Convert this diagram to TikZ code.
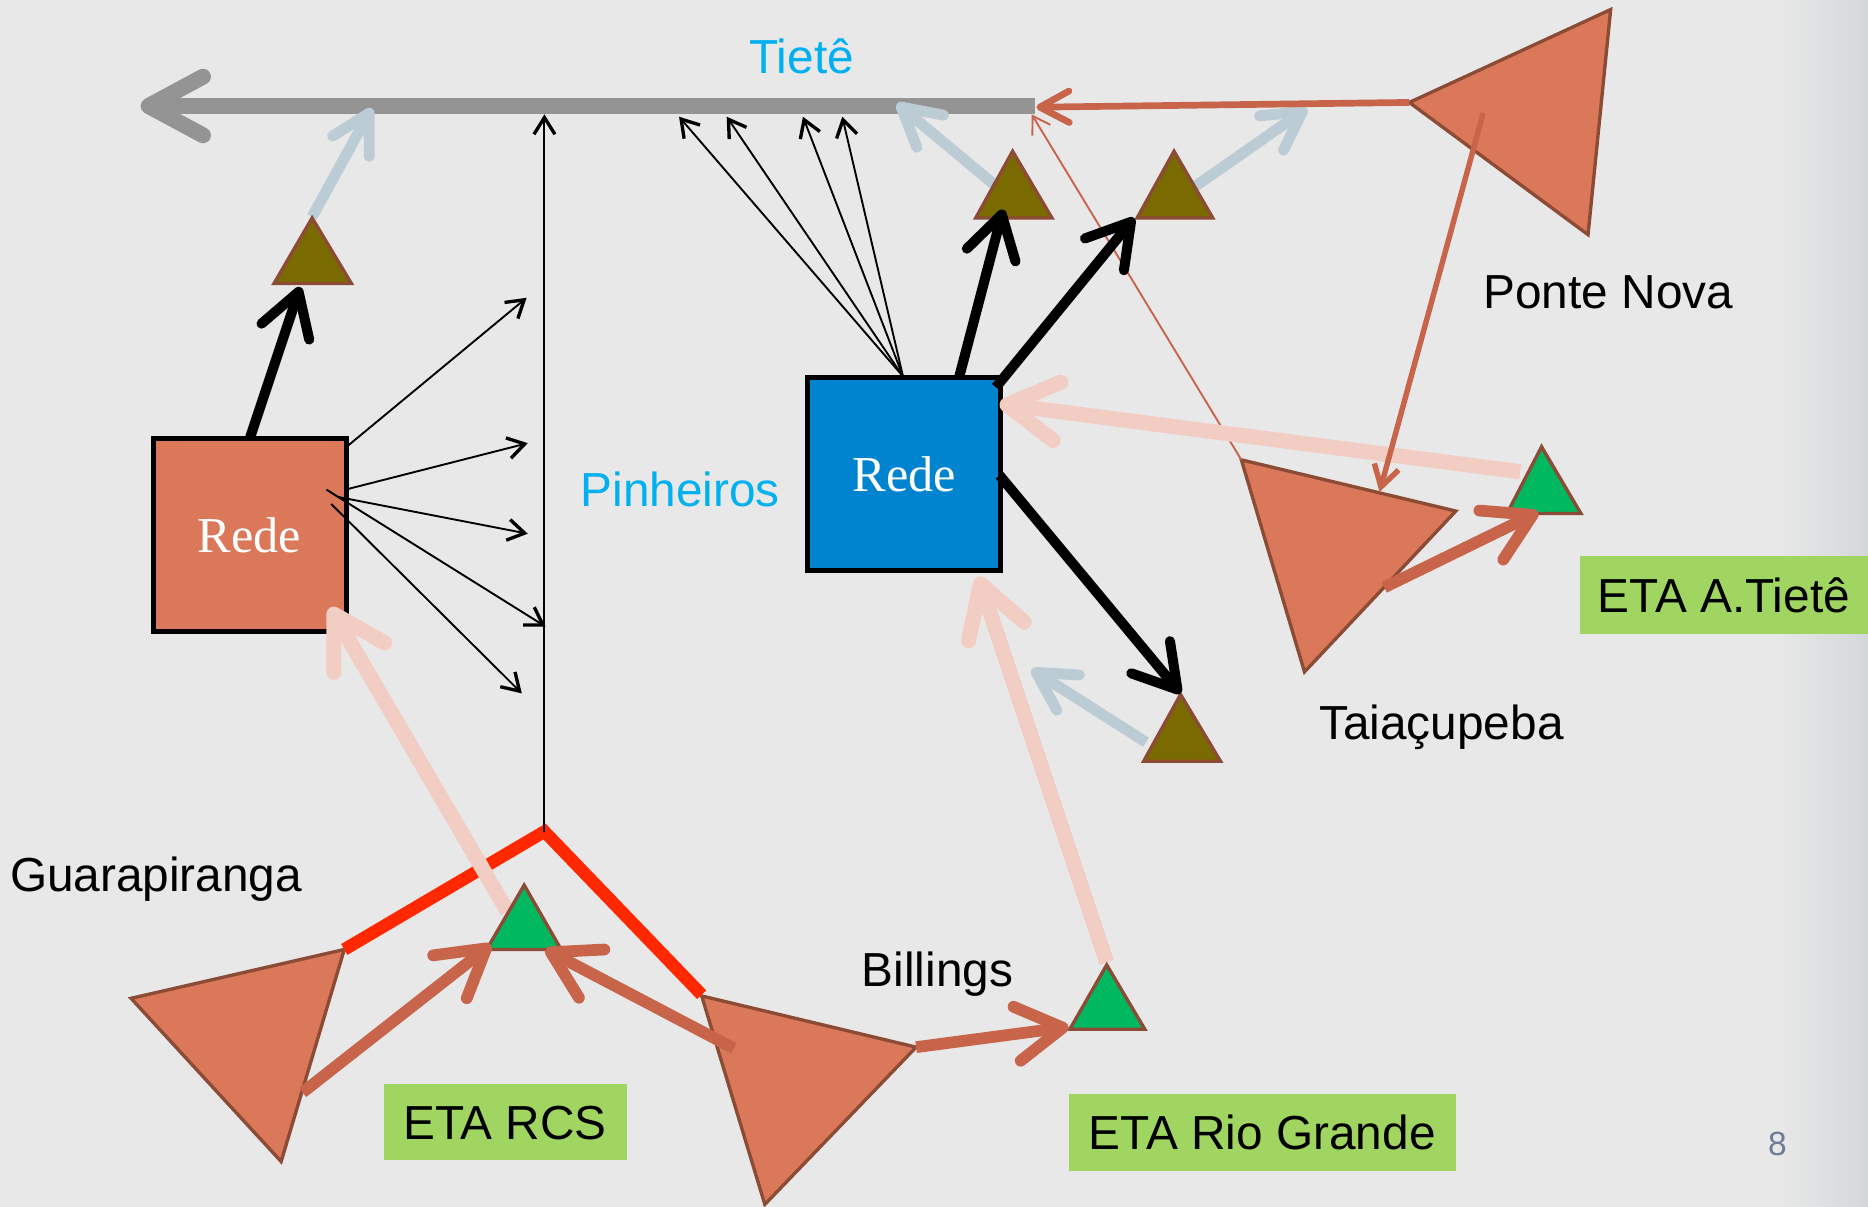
\documentclass[tikz,border=0pt]{standalone}
\usepackage{fontspec}
\setmainfont{Liberation Sans}
\newfontfamily\redefont{Liberation Serif}
\usetikzlibrary{arrows.meta}
\definecolor{bgc}{RGB}{232,232,232}
\definecolor{bgdark}{RGB}{212,215,218}
\definecolor{orfill}{RGB}{220,120,90}
\definecolor{orline}{RGB}{200,100,74}
\definecolor{brownb}{RGB}{140,75,52}
\definecolor{olive}{RGB}{122,107,0}
\definecolor{greent}{RGB}{0,184,96}
\definecolor{lblgreen}{RGB}{160,213,98}
\definecolor{pinkc}{RGB}{242,205,195}
\definecolor{lblue}{RGB}{188,204,212}
\definecolor{grayl}{RGB}{148,148,148}
\definecolor{redl}{RGB}{255,40,0}
\definecolor{cyant}{RGB}{0,176,240}
\definecolor{bluebox}{RGB}{0,132,207}
\definecolor{pagenum}{RGB}{110,122,150}
\begin{document}
\begin{tikzpicture}[x=0.01cm,y=-0.01cm,
  lbl/.style={font=\fontsize{11.4}{13}\selectfont, anchor=base, inner sep=0pt},
  etabox/.style={fill=lblgreen, inner sep=0pt, font=\fontsize{11.4}{13}\selectfont, text height=8.2pt, text depth=0pt},
  redebox/.style={draw=black, line width=1.2pt, minimum width=1.62cm, minimum height=1.62cm, inner sep=0pt, text=white, font=\redefont\fontsize{12}{14}\selectfont},
  bigtri/.style={fill=orfill, draw=brownb, line width=0.8pt, line join=miter},
  olivetri/.style={fill=olive, draw=brownb, line width=0.8pt, line join=miter},
  greentri/.style={fill=greent, draw=brownb, line width=0.8pt, line join=miter},
  grayarr/.style={draw=grayl, line width=3.8pt, -{Straight Barb[length=13pt,width=14pt,round]}},
  blkthick/.style={draw=black, line width=2.4pt, -{Straight Barb[length=10pt,width=12pt,round]}},
  blkthin/.style={draw=black, line width=0.45pt, -{Straight Barb[length=4pt,width=5pt,line width=0.8pt]}},
  bluearr/.style={draw=lblue, line width=2.6pt, -{Straight Barb[length=9pt,width=10pt,round]}},
  pinkarr/.style={draw=pinkc, line width=3.6pt, -{Straight Barb[length=12pt,width=14pt,round]}},
  orarr/.style={draw=orline, line width=2.8pt, -{Straight Barb[length=11pt,width=13pt,round]}},
  ormid/.style={draw=orline, line width=1.6pt, -{Straight Barb[length=7pt,width=7.5pt,round]}},
  orthin/.style={draw=orline, line width=1.3pt, -{Straight Barb[length=5pt,width=6pt]}},
  orhair/.style={draw=orline, line width=0.45pt, -{Straight Barb[length=4pt,width=5pt]}},
  redpath/.style={draw=redl, line width=3pt, line join=miter}
]
\useasboundingbox (0,0) rectangle (1568,1013);
\fill[bgc] (0,0) rectangle (1568,1013);
\shade[left color=bgc, right color=bgdark, shading angle=90] (1490,0) rectangle (1568,1013);

% Tiete river
\coordinate (tieL) at (118,89);
\coordinate (tieR) at (869,89);
\draw[grayarr] (tieR) -- (tieL);

% big reservoirs
\coordinate (pn1) at (1183,86); \coordinate (pn2) at (1352,8); \coordinate (pn3) at (1333,197);
\coordinate (ta1) at (1042,386); \coordinate (ta2) at (1222,429); \coordinate (ta3) at (1095,564);
\coordinate (gu1) at (110,838); \coordinate (gu2) at (289,797); \coordinate (gu3) at (236,975);
\coordinate (bi1) at (589,836); \coordinate (bi2) at (769,879); \coordinate (bi3) at (642,1011);
\filldraw[bigtri] (pn1) -- (pn2) -- (pn3) -- cycle;
\filldraw[bigtri] (ta1) -- (ta2) -- (ta3) -- cycle;
\filldraw[bigtri] (gu1) -- (gu2) -- (gu3) -- cycle;
\filldraw[bigtri] (bi1) -- (bi2) -- (bi3) -- cycle;

% red divide
\coordinate (rpk) at (457,698);
\coordinate (rl) at (289,797);
\coordinate (rr) at (589,835);
\draw[redpath] (rl) -- (rpk) -- (rr);

% Rede boxes
\node[redebox, fill=orfill] (redeL) at (209.5,449) {Rede};
\node[redebox, fill=bluebox] (redeR) at (759,398) {Rede};

% vertical Pinheiros line
\coordinate (pinTop) at (457,96);
\draw[blkthin] (rpk) -- (pinTop);

% thin fan from left Rede
\coordinate (fl1s) at (291,375); \coordinate (fl1e) at (442,250);
\coordinate (fl2s) at (290,411); \coordinate (fl2e) at (443,372);
\coordinate (fl3s) at (283,417); \coordinate (fl3e) at (443,448);
\coordinate (fl4s) at (274,411); \coordinate (fl4e) at (458,526);
\coordinate (fl5s) at (278,423); \coordinate (fl5e) at (438,582);
\draw[blkthin] (fl1s) -- (fl1e);
\draw[blkthin] (fl2s) -- (fl2e);
\draw[blkthin] (fl3s) -- (fl3e);
\draw[blkthin] (fl4s) -- (fl4e);
\draw[blkthin] (fl5s) -- (fl5e);

% thin fan from right Rede
\coordinate (frs) at (758,316);
\coordinate (fr1) at (570,98); \coordinate (fr2) at (610,98);
\coordinate (fr3) at (674,98); \coordinate (fr4) at (707,98);
\draw[blkthin] (frs) -- (fr1);
\draw[blkthin] (frs) -- (fr2);
\draw[blkthin] (frs) -- (fr3);
\draw[blkthin] (frs) -- (fr4);

% thin orange from Taiacupeba to Tiete
\coordinate (thinTop) at (866,96);
\draw[orhair] (ta1) -- (thinTop);

% light blue arrows
\coordinate (b1s) at (262,182); \coordinate (b1e) at (312,91);
\coordinate (b2s) at (837,157); \coordinate (b2e) at (753,87);
\coordinate (b3s) at (1001,158); \coordinate (b3e) at (1097,91);
\coordinate (b4s) at (962,623); \coordinate (b4e) at (866,562);
\draw[bluearr] (b1s) -- (b1e);
\draw[bluearr] (b2s) -- (b2e);
\draw[bluearr] (b3s) -- (b3e);
\draw[bluearr] (b4s) -- (b4e);

% pink arrows
\coordinate (p1s) at (426,765); \coordinate (p1e) at (277,510);
\coordinate (p2s) at (929,808); \coordinate (p2e) at (821,484);
\coordinate (p3s) at (1276,396); \coordinate (p3e) at (839,339);
\draw[pinkarr] (p1s) -- (p1e);
\draw[pinkarr] (p2s) -- (p2e);
\draw[pinkarr] (p3s) -- (p3e);

% small triangles
\filldraw[olivetri] (262,183) -- (295,238) -- (230,238) -- cycle;
\filldraw[olivetri] (850,127) -- (883,183) -- (819,183) -- cycle;
\filldraw[olivetri] (985.5,127) -- (1018,183) -- (954.5,183) -- cycle;
\filldraw[olivetri] (991,583) -- (1024.5,639) -- (960,639) -- cycle;
\filldraw[greentri] (1294,375) -- (1327,431) -- (1265,431) -- cycle;
\filldraw[greentri] (440,743) -- (471,797) -- (408.5,797) -- cycle;
\filldraw[greentri] (929,810) -- (961,864) -- (898,864) -- cycle;

% black thick arrows
\coordinate (k1s) at (210,367); \coordinate (k1e) at (252,241);
\coordinate (k2s) at (805,317); \coordinate (k2e) at (842,176);
\coordinate (k3s) at (836,325); \coordinate (k3e) at (952,183);
\coordinate (k4s) at (839,399); \coordinate (k4e) at (991,582);
\draw[blkthick] (k1s) -- (k1e);
\draw[blkthick] (k2s) -- (k2e);
\draw[blkthick] (k3s) -- (k3e);
\draw[blkthick] (k4s) -- (k4e);

% orange arrows
\coordinate (o1e) at (870,90);
\draw[ormid] (pn1) -- (o1e);
\coordinate (o2s) at (1245,95); \coordinate (o2e) at (1158,413);
\draw[orthin] (o2s) -- (o2e);
\coordinate (o3s) at (1162,493); \coordinate (o3e) at (1291,430);
\draw[orarr] (o3s) -- (o3e);
\coordinate (o4s) at (254,917); \coordinate (o4e) at (412,793);
\draw[orarr] (o4s) -- (o4e);
\coordinate (o5s) at (616,880); \coordinate (o5e) at (458,797);
\draw[orarr] (o5s) -- (o5e);
\coordinate (o6e) at (897,862);
\draw[orarr] (bi2) -- (o6e);

% labels
\node[lbl, text=cyant] (tieteL) at (673,62) {Tietê};
\node[lbl, text=cyant] (pinhL) at (571,425) {Pinheiros};
\node[lbl] (ponteL) at (1350,259) {Ponte Nova};
\node[lbl] (taiaL) at (1210,621) {Taiaçupeba};
\node[lbl] (guaraL) at (131,748) {Guarapiranga};
\node[lbl] (billL) at (787,828) {Billings};
\node[etabox, minimum width=2.42cm, minimum height=0.65cm] (etaAT) at (1447,499.5) {ETA A.Tietê};
\node[etabox, minimum width=2.04cm, minimum height=0.64cm] (etaRCS) at (424,942) {ETA RCS};
\node[etabox, minimum width=3.25cm, minimum height=0.65cm] (etaRG) at (1059.5,950.5) {ETA Rio Grande};
\node[anchor=base, inner sep=0pt, text=pagenum, font=\fontsize{8}{10}\selectfont] (pgnum) at (1492,970) {8};
\end{tikzpicture}
\end{document}
